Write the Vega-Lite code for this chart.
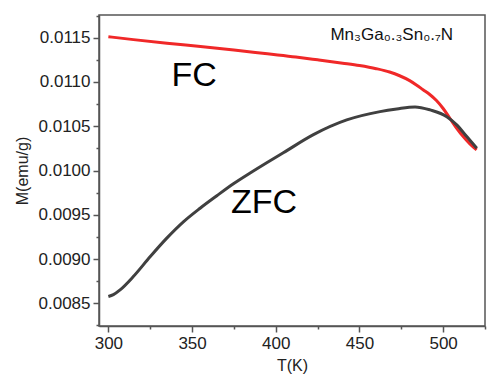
{
  "$schema": "https://vega.github.io/schema/vega-lite/v6.json",
  "width": 386,
  "height": 311,
  "autosize": {"type": "none"},
  "padding": {"left": 99, "top": 15, "right": 15, "bottom": 57},
  "background": "white",
  "config": {
    "view": {"stroke": "#555555", "strokeWidth": 1.5},
    "font": "Liberation Sans"
  },
  "datasets": {
    "curves": [
      {"T": 300, "M": 0.011511, "s": "FC"},
      {"T": 315, "M": 0.011478, "s": "FC"},
      {"T": 335, "M": 0.011437, "s": "FC"},
      {"T": 355, "M": 0.011400, "s": "FC"},
      {"T": 375, "M": 0.011361, "s": "FC"},
      {"T": 395, "M": 0.011318, "s": "FC"},
      {"T": 412, "M": 0.011282, "s": "FC"},
      {"T": 425, "M": 0.011250, "s": "FC"},
      {"T": 440, "M": 0.011212, "s": "FC"},
      {"T": 450, "M": 0.011185, "s": "FC"},
      {"T": 460, "M": 0.011150, "s": "FC"},
      {"T": 468, "M": 0.011112, "s": "FC"},
      {"T": 474, "M": 0.011070, "s": "FC"},
      {"T": 480, "M": 0.011015, "s": "FC"},
      {"T": 484, "M": 0.010966, "s": "FC"},
      {"T": 488, "M": 0.010912, "s": "FC"},
      {"T": 492, "M": 0.010858, "s": "FC"},
      {"T": 496, "M": 0.010790, "s": "FC"},
      {"T": 500, "M": 0.010700, "s": "FC"},
      {"T": 504, "M": 0.010590, "s": "FC"},
      {"T": 508, "M": 0.010480, "s": "FC"},
      {"T": 512, "M": 0.010383, "s": "FC"},
      {"T": 516, "M": 0.010300, "s": "FC"},
      {"T": 520, "M": 0.010232, "s": "FC"},
      {"T": 300, "M": 0.008577, "s": "ZFC"},
      {"T": 303, "M": 0.008598, "s": "ZFC"},
      {"T": 307, "M": 0.008652, "s": "ZFC"},
      {"T": 314.9, "M": 0.008802, "s": "ZFC"},
      {"T": 324.9, "M": 0.009025, "s": "ZFC"},
      {"T": 334.9, "M": 0.009236, "s": "ZFC"},
      {"T": 344.8, "M": 0.009420, "s": "ZFC"},
      {"T": 354.8, "M": 0.009574, "s": "ZFC"},
      {"T": 364.8, "M": 0.009715, "s": "ZFC"},
      {"T": 374.7, "M": 0.009850, "s": "ZFC"},
      {"T": 384.7, "M": 0.009972, "s": "ZFC"},
      {"T": 394.6, "M": 0.010088, "s": "ZFC"},
      {"T": 404.5, "M": 0.010200, "s": "ZFC"},
      {"T": 422.5, "M": 0.010405, "s": "ZFC"},
      {"T": 442.4, "M": 0.010571, "s": "ZFC"},
      {"T": 462.3, "M": 0.010665, "s": "ZFC"},
      {"T": 472.3, "M": 0.010695, "s": "ZFC"},
      {"T": 483.2, "M": 0.010718, "s": "ZFC"},
      {"T": 492.2, "M": 0.010684, "s": "ZFC"},
      {"T": 502.2, "M": 0.010608, "s": "ZFC"},
      {"T": 508.1, "M": 0.010515, "s": "ZFC"},
      {"T": 514.1, "M": 0.010383, "s": "ZFC"},
      {"T": 520.1, "M": 0.010252, "s": "ZFC"}
    ],
    "labels": [
      {"T": 351.2, "M": 0.011068, "text": "FC"},
      {"T": 393, "M": 0.009634, "text": "ZFC"}
    ],
    "formula": [
      {"T": 469.3, "M": 0.011474, "text": "Mn₃Ga₀.₃Sn₀.₇N"}
    ]
  },
  "encoding": {
    "x": {
      "field": "T", "type": "quantitative",
      "scale": {"domain": [294.4, 525], "nice": false, "zero": false},
      "axis": {
        "title": "T(K)", "titleFontSize": 16, "titleFontWeight": "normal", "titleColor": "#222", "titlePadding": 6,
        "values": [300, 325, 350, 375, 400, 425, 450, 475, 500, 525],
        "labelExpr": "datum.value % 50 == 0 ? format(datum.value, 'd') : ''",
        "labelFontSize": 17, "labelColor": "#222", "labelPadding": 3,
        "tickSize": {"condition": {"test": "datum.value % 50 == 0", "value": 6}, "value": 3},
        "tickColor": "#555", "tickWidth": 1.5, "domainColor": "#555", "domainWidth": 1.5,
        "grid": false, "labelOverlap": false, "labelFlush": false
      }
    },
    "y": {
      "field": "M", "type": "quantitative",
      "scale": {"domain": [0.008244, 0.011756], "nice": false, "zero": false},
      "axis": {
        "title": "M(emu/g)", "titleFontSize": 16, "titleFontWeight": "normal", "titleColor": "#222", "titlePadding": 8,
        "values": [0.00825, 0.0085, 0.00875, 0.009, 0.00925, 0.0095, 0.00975, 0.01, 0.01025, 0.0105, 0.01075, 0.011, 0.01125, 0.0115, 0.01175],
        "labelExpr": "indexof(['0.0085','0.0090','0.0095','0.0100','0.0105','0.0110','0.0115'], format(datum.value, '.4f')) >= 0 ? format(datum.value, '.4f') : ''",
        "labelFontSize": 17, "labelColor": "#222", "labelPadding": 3,
        "tickSize": {"condition": {"test": "indexof(['0.0085','0.0090','0.0095','0.0100','0.0105','0.0110','0.0115'], format(datum.value, '.4f')) >= 0", "value": 6}, "value": 3},
        "tickColor": "#555", "tickWidth": 1.5, "domainColor": "#555", "domainWidth": 1.5,
        "grid": false, "labelOverlap": false, "labelFlush": false
      }
    }
  },
  "layer": [
    {
      "data": {"name": "curves"},
      "mark": {"type": "line", "strokeWidth": 3, "clip": true, "interpolate": "monotone"},
      "encoding": {
        "color": {
          "field": "s", "type": "nominal",
          "scale": {"domain": ["FC", "ZFC"], "range": ["#f02828", "#404040"]},
          "legend": null
        }
      }
    },
    {
      "data": {"name": "labels"},
      "mark": {"type": "text", "fontSize": 34, "align": "center", "baseline": "middle", "color": "#000"},
      "encoding": {"text": {"field": "text"}}
    },
    {
      "data": {"name": "formula"},
      "mark": {"type": "text", "fontSize": 17, "align": "center", "baseline": "alphabetic", "color": "#111"},
      "encoding": {"text": {"field": "text"}}
    }
  ]
}
